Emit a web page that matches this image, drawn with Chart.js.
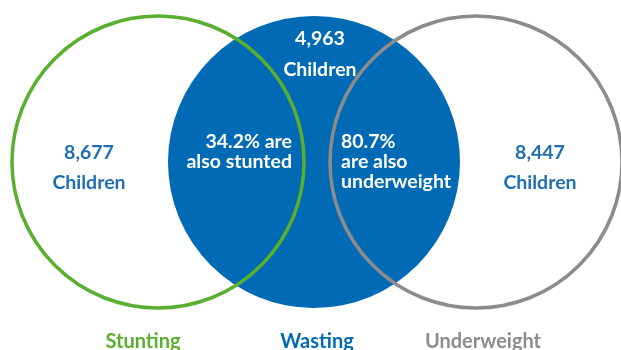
<!DOCTYPE html>
<html>
<head>
<meta charset="utf-8">
<script src="https://cdn.jsdelivr.net/npm/chart.js@4"></script>
<style>
  html, body { margin: 0; padding: 0; background: #fff; }
  #wrap { width: 621px; height: 350px; }
</style>
</head>
<body>
<div id="wrap"><canvas id="venn" width="621" height="350"></canvas></div>
<script>
// Venn data
const categories = ['Stunting', 'Wasting', 'Underweight'];
const childCounts = ['8,677', '4,963', '8,447'];
const overlapLeft = ['34.2% are', 'also stunted'];
const overlapRight = ['80.7%', 'are also', 'underweight'];

const green = '#5aaf31';
const blue = '#006ab4';
const gray = '#8c8c8c';
const textBlue = '#1f6fb4';

const R = 146;
const centers = [{ x: 158, y: 162 }, { x: 314, y: 162 }, { x: 476, y: 162 }];

const labelsPlugin = {
  id: 'vennLabels',
  afterDatasetsDraw(chart) {
    const ctx = chart.ctx;
    const sx = chart.scales.x, sy = chart.scales.y;
    const px = v => sx.getPixelForValue(v);
    const py = v => sy.getPixelForValue(v);
    ctx.save();
    ctx.textBaseline = 'middle';
    ctx.font = 'bold 19.5px Lato';

    // outer counts
    ctx.textAlign = 'center';
    ctx.fillStyle = textBlue;
    ctx.fillText(childCounts[0], px(89), py(153));
    ctx.fillText('Children', px(89), py(183));
    ctx.fillText(childCounts[2], px(540), py(153));
    ctx.fillText('Children', px(540), py(183));

    ctx.fillStyle = '#fff';
    ctx.fillText(childCounts[1], px(320), py(39));
    ctx.fillText('Children', px(320), py(70));

    // overlaps
    ctx.textAlign = 'right';
    overlapLeft.forEach((t, i) => ctx.fillText(t, px(292), py(142 + i * 20)));
    ctx.textAlign = 'left';
    overlapRight.forEach((t, i) => ctx.fillText(t, px(341), py(142 + i * 20)));

    // category names
    ctx.textAlign = 'center';
    ctx.font = 'bold 20px Lato';
    const cols = [green, blue, gray];
    const lx = [143, 317, 483];
    categories.forEach((c, i) => {
      ctx.fillStyle = cols[i];
      ctx.fillText(c, px(lx[i]), py(342));
    });
    ctx.restore();
  }
};

new Chart(document.getElementById('venn'), {
  type: 'bubble',
  data: {
    datasets: [
      {
        label: categories[0],
        data: [{ x: centers[0].x, y: centers[0].y, r: R }],
        backgroundColor: 'rgba(0,0,0,0)',
        borderColor: green,
        borderWidth: 3.5,
        order: 1
      },
      {
        label: categories[2],
        data: [{ x: centers[2].x, y: centers[2].y, r: R }],
        backgroundColor: 'rgba(0,0,0,0)',
        borderColor: gray,
        borderWidth: 3.5,
        order: 1
      },
      {
        label: categories[1],
        data: [{ x: centers[1].x, y: centers[1].y, r: R }],
        backgroundColor: blue,
        borderColor: blue,
        borderWidth: 0,
        order: 2
      }
    ]
  },
  options: {
    responsive: false,
    animation: false,
    events: [],
    layout: { padding: 0, autoPadding: false },
    clip: false,
    scales: {
      x: { type: 'linear', min: 0, max: 621, display: false },
      y: { type: 'linear', min: 0, max: 350, reverse: true, display: false }
    },
    plugins: { legend: { display: false }, tooltip: { enabled: false } }
  },
  plugins: [labelsPlugin]
});
</script>
</body>
</html>
